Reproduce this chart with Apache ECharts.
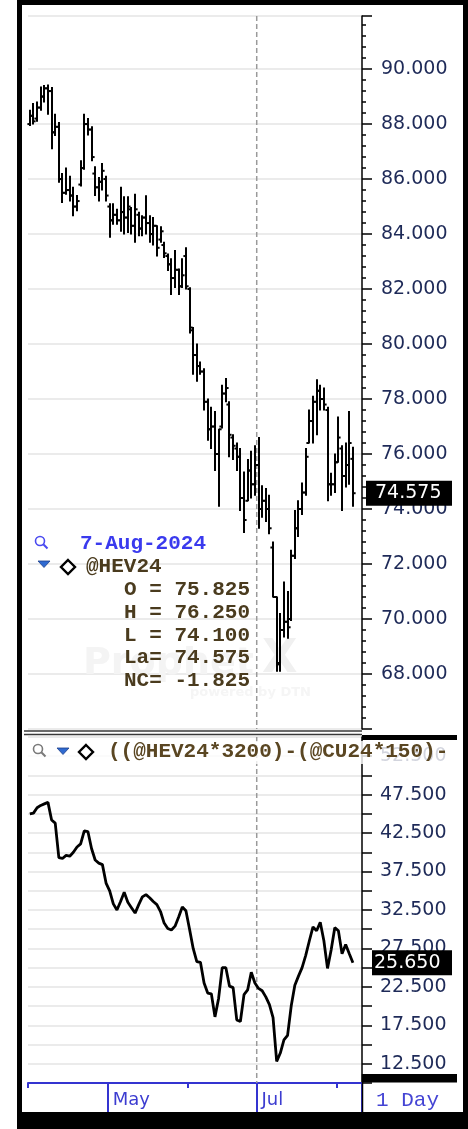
<!DOCTYPE html>
<html>
<head>
<meta charset="utf-8">
<title>@HEV24 daily</title>
<script src="https://cdn.jsdelivr.net/npm/echarts@6/dist/echarts.min.js"></script>
<style>
html, body { margin: 0; padding: 0; background: #fff; }
#main { width: 468px; height: 1129px; }
</style>
</head>
<body>
<div id="main"></div>
<script>
// Trading sessions, April - August 2024 (two empty slots kept at the right edge)
const daysApr = [1,2,3,4,5,8,9,10,11,12,15,16,17,18,19,22,23,24,25,26,29,30];
const daysMay = [1,2,3,6,7,8,9,10,13,14,15,16,17,20,21,22,23,24,28,29,30,31];
const daysJun = [3,4,5,6,7,10,11,12,13,14,17,18,20,21,24,25,26,27,28];
const daysJul = [1,2,3,5,8,9,10,11,12,15,16,17,18,19,22,23,24,25,26,29,30,31];
const daysAug = [1,2,5,6,7];
const daysAhead = [8,9];

const monthNames = ['Jan','Feb','Mar','Apr','May','Jun','Jul','Aug','Sep','Oct','Nov','Dec'];
const labeledMonths = ['May','Jul'];
const markerDate = '2024-07-01';

// @HEV24 daily bars
const opens  = [88.00,88.30,88.20,88.60,89.00,89.30,89.20,87.70,87.90,86.00,85.50,85.60,85.40,85.00,85.80,86.40,88.00,87.80,86.20,85.70,85.90,86.00,
                85.00,84.50,84.70,84.50,84.80,84.60,84.90,84.30,84.70,84.20,84.60,84.40,84.00,84.30,83.80,83.60,83.20,82.90,82.40,82.70,82.10,83.20,
                82.00,80.50,79.60,79.20,79.00,77.90,76.90,77.00,76.00,77.00,78.20,77.80,76.60,76.20,75.90,74.40,74.30,75.40,74.90,
                75.60,74.00,74.30,74.00,72.60,70.80,68.40,69.60,69.90,70.00,72.30,73.30,74.00,74.60,76.40,77.20,77.90,78.30,78.00,77.60,74.90,74.90,75.70,
                76.20,75.20,75.60,75.825];
const highs  = [88.50,88.75,88.80,89.35,89.40,89.42,89.33,88.36,88.06,86.20,86.40,86.10,85.70,85.40,86.67,88.36,88.20,87.90,86.45,86.06,86.57,86.10,
                85.10,85.10,84.90,85.70,85.36,85.36,84.97,85.45,84.79,84.67,85.39,84.67,84.60,84.30,84.27,83.70,83.27,83.10,83.40,82.73,83.10,83.50,
                82.05,80.60,80.00,79.35,79.10,78.00,77.70,77.55,76.90,78.50,78.75,77.90,76.70,76.40,76.20,75.35,75.80,76.10,76.30,
                76.60,74.85,74.75,74.50,72.80,70.80,70.20,71.35,71.00,72.50,73.95,74.30,74.95,76.20,77.60,78.10,78.70,78.50,78.40,77.70,75.30,76.00,77.35,
                76.30,76.40,77.55,76.25];
const lows   = [87.95,88.00,88.10,88.50,88.80,88.36,87.10,87.58,85.88,85.15,85.45,85.20,84.67,84.85,85.75,86.36,87.60,86.67,85.40,85.20,85.60,85.20,
                83.88,84.36,84.36,84.10,84.00,84.06,84.00,83.70,83.94,83.94,84.00,83.70,83.60,83.20,83.70,83.15,82.67,81.80,82.06,81.80,82.06,82.00,
                80.40,78.90,78.65,78.90,77.60,76.50,76.20,75.40,74.10,76.95,77.90,75.90,75.80,75.40,73.95,73.15,74.30,74.40,74.50,
                73.30,73.70,73.55,73.10,70.80,68.10,68.10,69.35,69.30,69.95,72.20,73.00,73.80,74.50,76.40,76.40,76.70,77.60,77.60,74.30,74.50,74.60,75.70,
                73.95,74.80,74.90,74.10];
const closes = [88.30,88.10,88.60,89.00,89.30,89.20,87.70,87.90,86.00,85.50,85.60,85.40,85.00,85.20,86.40,88.00,87.80,86.80,85.70,85.90,86.30,85.40,
                84.50,84.70,84.50,84.80,84.60,85.00,84.30,84.90,84.20,84.60,84.40,84.00,84.30,83.50,84.10,83.30,82.90,82.40,82.70,82.10,82.50,82.10,
                80.60,79.60,79.20,79.00,77.90,76.90,77.00,76.00,76.90,78.20,78.40,76.70,76.30,75.90,74.40,73.60,75.40,74.90,75.60,
                74.00,74.30,74.00,73.30,70.80,68.35,69.60,69.90,69.70,72.30,73.30,74.00,74.60,75.90,77.20,77.90,78.30,78.00,77.80,74.90,74.90,75.70,76.60,
                75.20,75.60,76.40,74.575];

// ((@HEV24*3200)-(@CU24*150)-...) spread, daily closes
const spread = [45.0,45.1,45.8,46.1,46.3,46.5,44.2,43.8,39.3,39.2,39.6,39.5,40.0,40.7,41.1,42.8,42.7,40.5,39.0,38.6,38.4,36.0,
                35.0,33.3,32.5,33.6,34.8,33.5,32.8,32.1,33.2,34.2,34.5,34.1,33.6,33.2,32.3,30.8,30.1,29.9,30.4,31.6,32.9,32.4,
                30.0,27.5,25.8,25.7,23.0,21.7,21.6,18.6,21.0,25.0,25.0,22.6,22.4,18.2,18.0,21.5,22.1,24.4,23.0,
                22.3,22.0,21.2,20.2,18.5,12.8,13.9,15.6,16.2,20.0,22.7,23.9,25.0,26.6,28.5,30.3,29.8,30.9,28.5,24.9,27.3,30.2,29.8,
                26.8,28.0,26.8,25.65];

const symbolName = '@HEV24';
const spreadName = '((@HEV24*3200)-(@CU24*150)-';
const periodText = '1 Day';

// Axis ranges
const priceMin = 66, priceMax = 91.93, priceStep = 2, priceFirstLabel = 68, priceLastLabel = 90;
const spreadMin = 10, spreadMax = 55, spreadStep = 2.5;

// ---- derived ----
const iso = (m, d) => '2024-' + String(m).padStart(2, '0') + '-' + String(d).padStart(2, '0');
const categories = [].concat(
  daysApr.map(d => iso(4, d)), daysMay.map(d => iso(5, d)), daysJun.map(d => iso(6, d)),
  daysJul.map(d => iso(7, d)), daysAug.map(d => iso(8, d)), daysAhead.map(d => iso(8, d))
);
const nBars = closes.length;
const isMonthStart = i => i < nBars && (i === 0 || categories[i].slice(0, 7) !== categories[i - 1].slice(0, 7));
const monthOf = v => monthNames[parseInt(v.slice(5, 7), 10) - 1];
const isLabeledStart = i => isMonthStart(i) && labeledMonths.includes(monthOf(categories[i]));
const ohlc = opens.map((o, i) => [i, o, highs[i], lows[i], closes[i]]);

const AXIS_FONT = 'DejaVu Sans';
const MONO_FONT = 'Liberation Mono';
const LABEL_COLOR = '#1e2a58';
const GRID_COLOR = '#e4e4e4';
const AXIS_BLUE = '#3434d0';

function renderOHLC(params, api) {
  const i = api.value(0);
  const o = api.coord([i, api.value(1)]);
  const h = api.coord([i, api.value(2)]);
  const l = api.coord([i, api.value(3)]);
  const c = api.coord([i, api.value(4)]);
  const x = Math.round(h[0]);
  const t = 2.6;
  const st = { stroke: '#000', lineWidth: 2 };
  return {
    type: 'group',
    children: [
      { type: 'line', shape: { x1: x, y1: h[1] - 0.5, x2: x, y2: l[1] + 0.5 }, style: st },
      { type: 'line', shape: { x1: x - t, y1: o[1], x2: x, y2: o[1] }, style: st },
      { type: 'line', shape: { x1: x, y1: c[1], x2: x + t, y2: c[1] }, style: st }
    ]
  };
}

const chart = echarts.init(document.getElementById('main'), null, { renderer: 'canvas' });

chart.setOption({
  animation: false,
  backgroundColor: '#fff',
  grid: [
    { left: 28, right: 106, top: 16, height: 713, outerBoundsMode: 'none', containLabel: false },
    { left: 28, right: 106, top: 737, height: 346, outerBoundsMode: 'none', containLabel: false }
  ],
  xAxis: [
    {
      type: 'category', gridIndex: 0, data: categories, boundaryGap: true,
      axisLine: { show: false }, axisTick: { show: false }, axisLabel: { show: false }, splitLine: { show: false }
    },
    {
      type: 'category', gridIndex: 1, data: categories, boundaryGap: true, position: 'bottom',
      axisLine: { show: true, lineStyle: { color: AXIS_BLUE, width: 2 } },
      axisTick: { show: true, length: 5, interval: idx => isMonthStart(idx), lineStyle: { color: AXIS_BLUE, width: 2 } },
      axisLabel: { show: false },
      splitLine: { show: false }
    },
    {
      type: 'category', gridIndex: 1, data: categories, boundaryGap: true, position: 'bottom',
      axisLine: { show: false },
      axisTick: { show: true, length: 29, interval: idx => isLabeledStart(idx), lineStyle: { color: AXIS_BLUE, width: 2 } },
      axisLabel: {
        show: true, interval: idx => isLabeledStart(idx),
        formatter: v => monthOf(v), align: 'left', padding: [0, 0, 0, 3], margin: 8,
        color: '#3c3cd0', fontFamily: AXIS_FONT, fontSize: 18
      },
      splitLine: { show: false }
    }
  ],
  yAxis: [
    {
      type: 'value', gridIndex: 0, position: 'right', min: priceMin, max: priceMax, interval: priceStep,
      axisLine: { show: true, onZero: false, lineStyle: { color: '#000', width: 1.5 } },
      axisTick: { show: true, length: 10, lineStyle: { color: '#000', width: 1.5 } },
      minorTick: { show: true, splitNumber: 5, length: 4, lineStyle: { color: '#000', width: 1.5 } },
      axisLabel: {
        margin: 19, color: LABEL_COLOR, fontFamily: AXIS_FONT, fontSize: 19,
        formatter: v => (v >= priceFirstLabel - 0.01 && v <= priceLastLabel + 0.01) ? v.toFixed(3) : ''
      },
      splitLine: { show: true, lineStyle: { color: GRID_COLOR, width: 1.5 } }
    },
    {
      type: 'value', gridIndex: 1, position: 'right', min: spreadMin, max: spreadMax, interval: spreadStep,
      axisLine: { show: true, onZero: false, lineStyle: { color: '#000', width: 1.5 } },
      axisTick: { show: true, length: 10, lineStyle: { color: '#000', width: 1.5 } },
      axisLabel: {
        margin: 18, color: LABEL_COLOR, fontFamily: AXIS_FONT, fontSize: 19,
        formatter: v => (Math.round(v * 10) % 50 === 25) ? v.toFixed(3) : ''
      },
      splitLine: { show: true, lineStyle: { color: GRID_COLOR, width: 1.5 } }
    }
  ],
  series: [
    {
      name: symbolName, type: 'custom', xAxisIndex: 0, yAxisIndex: 0,
      renderItem: renderOHLC, data: ohlc, encode: { x: 0, y: [1, 2, 3, 4] }, z: 5
    },
    {
      name: 'spread', type: 'line', xAxisIndex: 1, yAxisIndex: 1, data: spread,
      showSymbol: false, lineStyle: { color: '#000', width: 2.8 }, z: 5
    }
  ]
});

// ---- overlay: frame, legends, session marker, last-value tags ----
const last = nBars - 1;
const lastDate = categories[last];
const dateText = parseInt(lastDate.slice(8), 10) + '-' + monthOf(lastDate) + '-' + lastDate.slice(0, 4);
const netChange = closes[last] - closes[last - 1];
const fmt = v => v.toFixed(3);
const quoteLines = [
  'O = ' + fmt(opens[last]),
  'H = ' + fmt(highs[last]),
  'L = ' + fmt(lows[last]),
  'La= ' + fmt(closes[last]),
  'NC= ' + (netChange < 0 ? '-' : '') + fmt(Math.abs(netChange))
];

const yPriceTag = chart.convertToPixel({ yAxisIndex: 0 }, closes[last]);
const ySpreadTag = chart.convertToPixel({ yAxisIndex: 1 }, spread[last]);
// dashed marker on the boundary before the first July session
const mIdx = categories.indexOf(markerDate);
const xMarker = (chart.convertToPixel({ xAxisIndex: 0 }, categories[mIdx]) +
                 chart.convertToPixel({ xAxisIndex: 0 }, categories[mIdx - 1])) / 2;
const priceTop = chart.convertToPixel({ yAxisIndex: 0 }, priceMax);
const priceBottom = chart.convertToPixel({ yAxisIndex: 0 }, priceMin);
const spreadTop = chart.convertToPixel({ yAxisIndex: 1 }, spreadMax);
const spreadBottom = chart.convertToPixel({ yAxisIndex: 1 }, spreadMin);
const dashStyle = { stroke: '#9a9a9a', lineWidth: 1.5, lineDash: [5, 3] };

const monoText = (x, y, text, fill) => ({
  type: 'text', x: x, y: y, z: 100,
  style: { text: text, fill: fill, font: 'bold 21px "' + MONO_FONT + '"', textAlign: 'left', textVerticalAlign: 'middle' }
});

function magnifier(cx, cy, color) {
  return [
    { type: 'circle', z: 100, shape: { cx: cx, cy: cy, r: 4.5 }, style: { fill: 'none', stroke: color, lineWidth: 1.6 } },
    { type: 'line', z: 100, shape: { x1: cx + 3.3, y1: cy + 3.3, x2: cx + 7.5, y2: cy + 7.5 }, style: { stroke: color, lineWidth: 2 } }
  ];
}
function triangle(cx, cy) {
  return { type: 'polygon', z: 100, shape: { points: [[cx - 6, cy - 3], [cx + 6, cy - 3], [cx, cy + 3.5]] },
           style: { fill: '#2f6ad0', stroke: '#1d3f8a', lineWidth: 0.8 } };
}
function diamond(cx, cy) {
  return { type: 'polygon', z: 100, shape: { points: [[cx, cy - 7], [cx + 7, cy], [cx, cy + 7], [cx - 7, cy]] },
           style: { fill: '#fff', stroke: '#000', lineWidth: 2.4 } };
}

const LEGEND_BROWN = '#4a3b1e';
const elements = [
  // session marker
  { type: 'line', z: 3, shape: { x1: xMarker, y1: priceTop, x2: xMarker, y2: priceBottom }, style: dashStyle },
  { type: 'line', z: 3, shape: { x1: xMarker, y1: spreadTop, x2: xMarker, y2: spreadBottom }, style: dashStyle },

  // outer frame
  { type: 'rect', z: 200, shape: { x: 17, y: 0, width: 451, height: 5 }, style: { fill: '#000' } },
  { type: 'rect', z: 200, shape: { x: 17, y: 0, width: 5, height: 1129 }, style: { fill: '#000' } },
  { type: 'rect', z: 200, shape: { x: 463, y: 0, width: 5, height: 1129 }, style: { fill: '#000' } },
  { type: 'rect', z: 200, shape: { x: 17, y: 1112, width: 451, height: 17 }, style: { fill: '#000' } },

  // pane separator and axis-strip bars
  { type: 'line', z: 60, shape: { x1: 24, y1: 731, x2: 362, y2: 731 }, style: { stroke: '#3a3a3a', lineWidth: 1.6 } },
  { type: 'line', z: 60, shape: { x1: 24, y1: 734.5, x2: 362, y2: 734.5 }, style: { stroke: '#3a3a3a', lineWidth: 1.6 } },
  { type: 'rect', z: 60, shape: { x: 362, y: 735, width: 95, height: 5 }, style: { fill: '#000' } },
  { type: 'rect', z: 60, shape: { x: 362, y: 1074, width: 95, height: 8.5 }, style: { fill: '#000' } },
  { type: 'line', z: 60, shape: { x1: 362.5, y1: 1074, x2: 362.5, y2: 1112 }, style: { stroke: '#000', lineWidth: 1.5 } },

  // watermark
  { type: 'text', z: 1, x: 83, y: 664, style: { text: 'Prophet', fill: '#f4f4f4', font: 'bold 38px "DejaVu Sans"', textVerticalAlign: 'middle' } },
  { type: 'text', z: 1, x: 262, y: 660, style: { text: 'X', fill: '#f0f0f0', font: 'bold 46px "DejaVu Sans"', textVerticalAlign: 'middle' } },
  { type: 'text', z: 1, x: 190, y: 693, style: { text: 'powered by DTN', fill: '#f5f5f5', font: 'bold 13px "DejaVu Sans"', textVerticalAlign: 'middle' } },

  // upper pane quote legend
  ...magnifier(40, 541, '#4a4af0'),
  monoText(80, 544, dateText, '#3a3aee'),
  triangle(44, 564),
  diamond(68, 567),
  monoText(86, 567, symbolName, LEGEND_BROWN),
  ...quoteLines.map((t, k) => ({
    type: 'text', x: 250, y: 590 + k * 22.7, z: 100,
    style: { text: t, fill: LEGEND_BROWN, font: 'bold 21px "' + MONO_FONT + '"', textAlign: 'right', textVerticalAlign: 'middle' }
  })),

  // lower pane legend strip
  { type: 'rect', z: 90, shape: { x: 24, y: 741, width: 433, height: 23 }, style: { fill: 'rgba(255,255,255,0.8)' } },
  ...magnifier(38, 749, '#7a7a7a'),
  triangle(63, 751),
  diamond(86, 752),
  monoText(108, 752, spreadName, '#5a4622'),

  // period label
  { type: 'text', z: 100, x: 376, y: 1100, style: { text: periodText, fill: '#4444d4', font: '21px "' + MONO_FONT + '"', textVerticalAlign: 'middle' } },

  // last-value tags
  { type: 'rect', z: 110, shape: { x: 366, y: yPriceTag - 12.5, width: 86, height: 25 }, style: { fill: '#000' } },
  { type: 'text', z: 111, x: 375, y: yPriceTag, style: { text: fmt(closes[last]), fill: '#fff', font: '19px "' + AXIS_FONT + '"', textVerticalAlign: 'middle' } },
  { type: 'rect', z: 110, shape: { x: 372, y: ySpreadTag - 12.5, width: 80, height: 25 }, style: { fill: '#000' } },
  { type: 'text', z: 111, x: 374, y: ySpreadTag, style: { text: fmt(spread[last]), fill: '#fff', font: '19px "' + AXIS_FONT + '"', textVerticalAlign: 'middle' } }
];

chart.setOption({ graphic: { elements: elements } });
</script>
</body>
</html>
